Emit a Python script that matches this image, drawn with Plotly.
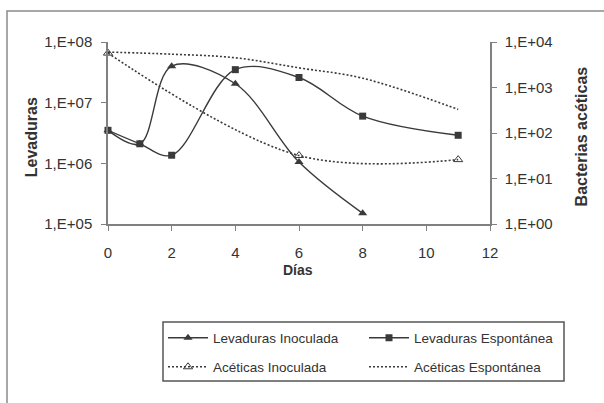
import plotly.graph_objects as go

# ---- data ----
dias_lev = [0, 1, 2, 4, 6, 8]
lev_inoculada = [3.5e6, 2.1e6, 4.0e7, 2.05e7, 1.05e6, 1.5e5]

dias_lev_esp = [0, 1, 2, 4, 6, 8, 11]
lev_espontanea = [3.5e6, 2.1e6, 1.36e6, 3.5e7, 2.6e7, 6.0e6, 2.9e6]

dias_acet_inoc = [0, 6, 11]
acet_inoculada = [5700, 32, 26]

dias_acet_esp = [0, 2, 4, 6, 8, 11]
acet_espontanea = [6000, 5400, 4500, 2700, 1600, 330]

left_ticks = [1e5, 1e6, 1e7, 1e8]
left_ticktext = ["1,E+05", "1,E+06", "1,E+07", "1,E+08"]
right_ticks = [1, 10, 100, 1000, 10000]
right_ticktext = ["1,E+00", "1,E+01", "1,E+02", "1,E+03", "1,E+04"]

# ---- geometry helpers (pixel -> paper) ----
L, R, T, B = 108, 490, 42, 224
PW, PH = R - L, B - T
def px(X):
    return (X - L) / PW
def py(Y):
    return (B - Y) / PH

FONT = "Liberation Sans, Arial, sans-serif"
LC = "#3a3a3a"
AX = "#808080"

fig = go.Figure()
fig.add_trace(go.Scatter(
    x=dias_lev, y=lev_inoculada, name="Levaduras Inoculada", mode="lines+markers",
    line=dict(color=LC, width=1.4, shape="spline"),
    marker=dict(symbol="triangle-up", size=8, color=LC),
    cliponaxis=False, legend="legend"))
fig.add_trace(go.Scatter(
    x=dias_lev_esp, y=lev_espontanea, name="Levaduras Espontánea", mode="lines+markers",
    line=dict(color=LC, width=1.4, shape="spline"),
    marker=dict(symbol="square", size=7, color=LC),
    cliponaxis=False, legend="legend2"))
fig.add_trace(go.Scatter(
    x=dias_acet_inoc, y=acet_inoculada, name="Acéticas Inoculada", mode="lines+markers",
    line=dict(color=LC, width=1.6, shape="spline", dash="2px,2px"),
    marker=dict(symbol="triangle-up-open", size=8, color=LC),
    cliponaxis=False, yaxis="y2", legend="legend3"))
fig.add_trace(go.Scatter(
    x=dias_acet_esp, y=acet_espontanea, name="Acéticas Espontánea", mode="lines",
    line=dict(color=LC, width=1.6, shape="spline", dash="2px,2px"),
    cliponaxis=False, yaxis="y2", legend="legend4"))

def leg(xpix, ypix):
    return dict(orientation="v", x=px(xpix), xanchor="left", y=py(ypix), yanchor="middle",
                itemwidth=40, bgcolor="rgba(0,0,0,0)", borderwidth=0,
                font=dict(size=13.5), itemclick=False, itemdoubleclick=False)

fig.update_layout(
    width=604, height=403,
    margin=dict(l=L, r=604 - R, t=T, b=403 - B),
    paper_bgcolor="white", plot_bgcolor="white",
    font=dict(family=FONT, size=14, color="#333333"),
    showlegend=True,
    xaxis=dict(range=[0, 12], tickvals=[0, 2, 4, 6, 8, 10, 12], showgrid=False,
               zeroline=False, showline=True, linecolor=AX, linewidth=1.5,
               ticks="outside", ticklen=5, tickcolor=AX, ticklabelstandoff=9,
               tickfont=dict(size=15)),
    yaxis=dict(type="log", range=[5, 8], tickvals=left_ticks, ticktext=left_ticktext,
               showgrid=False, zeroline=False, showline=True, linecolor=AX, linewidth=1.5,
               ticks="outside", ticklen=5, tickcolor=AX, ticklabelstandoff=6,
               tickfont=dict(size=15)),
    yaxis2=dict(type="log", range=[0, 4], tickvals=right_ticks, ticktext=right_ticktext,
                overlaying="y", side="right",
                showgrid=False, zeroline=False, showline=True, linecolor=AX, linewidth=1.5,
                ticks="outside", ticklen=5, tickcolor=AX, ticklabelstandoff=5,
                tickfont=dict(size=15)),
    legend=leg(163, 338),
    legend2=leg(364, 338),
    legend3=leg(163, 367),
    legend4=leg(364, 367),
    annotations=[
        dict(text="<b>Levaduras</b>", x=px(31.7), y=py(137.5), xref="paper", yref="paper",
             xanchor="center", yanchor="middle",
             showarrow=False, textangle=-90, font=dict(size=16)),
        dict(text="<b>Bacterias acéticas</b>", x=px(581.7), y=py(136.7), xref="paper",
             yref="paper", xanchor="center", yanchor="middle",
             showarrow=False, textangle=-90, font=dict(size=16)),
        dict(text="<b>Días</b>", x=px(298), y=py(270), xref="paper", yref="paper",
             xanchor="center", yanchor="middle",
             showarrow=False, font=dict(size=14)),
    ],
    shapes=[
        dict(type="rect", xref="paper", yref="paper", x0=px(163), x1=px(564),
             y0=py(381), y1=py(322), line=dict(color="#555555", width=1.5)),
        dict(type="rect", xref="paper", yref="paper", x0=px(7), x1=px(620),
             y0=py(420), y1=py(11), line=dict(color="#8a8a8a", width=1.5)),
    ],
)

fig.write_html("out.html")
